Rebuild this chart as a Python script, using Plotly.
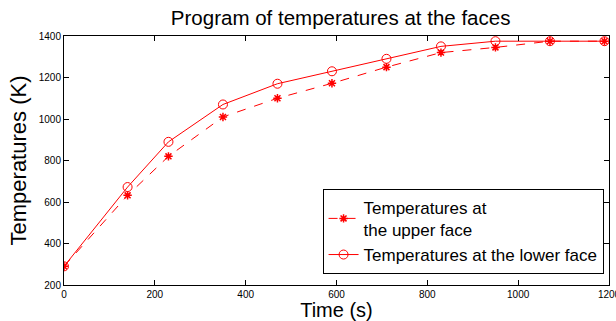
import plotly.graph_objects as go

time_s = [0, 140, 230, 350, 470, 590, 710, 830, 950, 1070, 1190]
upper_face = [290, 632, 820, 1010, 1100, 1172, 1250, 1320, 1345, 1375, 1375]
lower_face = [290, 672, 890, 1070, 1170, 1230, 1290, 1350, 1375, 1375, 1375]
x_ticks = [0, 200, 400, 600, 800, 1000, 1200]
y_ticks = [200, 400, 600, 800, 1000, 1200, 1400]

red = "#ff0000"
fig = go.Figure()
fig.add_trace(go.Scatter(
    x=time_s, y=upper_face, mode="lines+markers",
    name="Temperatures at<br>the upper face",
    line=dict(color=red, width=1, dash="dash"),
    marker=dict(symbol="asterisk-open", size=7, color=red, line=dict(color=red, width=1.5)),
))
fig.add_trace(go.Scatter(
    x=time_s, y=lower_face, mode="lines+markers",
    name="Temperatures at the lower face",
    line=dict(color=red, width=1),
    marker=dict(symbol="circle-open", size=9, color=red, line=dict(color=red, width=1)),
))

font_family = "Liberation Sans, Arial, sans-serif"
axis_common = dict(
    showgrid=False, zeroline=False, showline=True, linecolor="black", linewidth=1,
    mirror="ticks", ticks="inside", ticklen=5, tickcolor="black",
    ticklabeloverflow="allow", automargin=False,
    tickfont=dict(family=font_family, size=10, color="black"),
)
fig.update_layout(
    width=616, height=321,
    margin=dict(l=64, r=7, t=36, b=36),
    paper_bgcolor="white", plot_bgcolor="white",
    title=dict(text="Program of temperatures at the faces", x=0.553, xanchor="center",
               y=0.945, yanchor="middle",
               font=dict(family=font_family, size=20.5, color="black")),
    xaxis=dict(range=[0, 1200], tickvals=x_ticks,
               title=dict(text="Time (s)", standoff=3,
                          font=dict(family=font_family, size=20, color="black")),
               **axis_common),
    yaxis=dict(range=[200, 1400], tickvals=y_ticks,
               title=dict(text="Temperatures (K)", standoff=6,
                          font=dict(family=font_family, size=22, color="black")),
               **axis_common),
    legend=dict(x=0.99, xanchor="right", y=0.045, yanchor="bottom",
                bordercolor="black", borderwidth=1, bgcolor="white",
                font=dict(family=font_family, size=17, color="black"),
                tracegroupgap=0, itemwidth=30),
    showlegend=True,
)
fig.write_html("out.html")
